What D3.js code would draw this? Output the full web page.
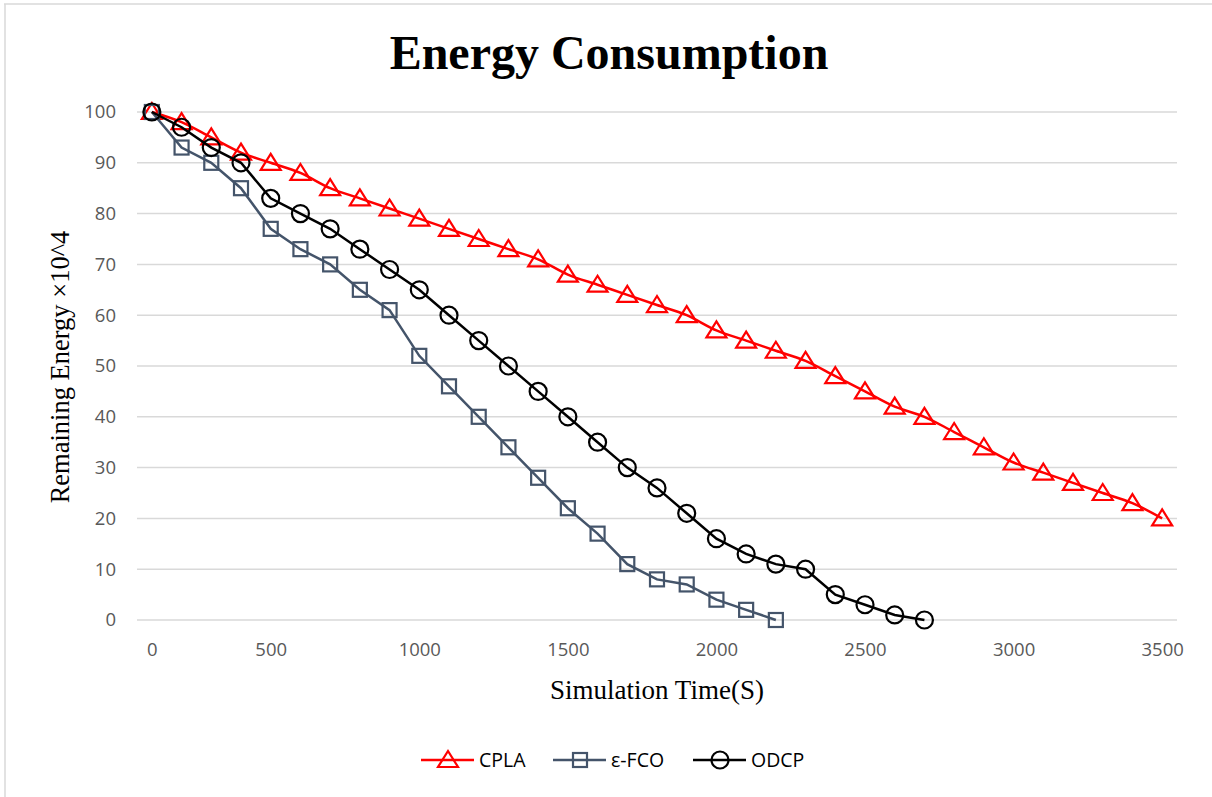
<!DOCTYPE html>
<html>
<head>
<meta charset="utf-8">
<script src="https://cdn.jsdelivr.net/npm/d3@7"></script>
<style>
  body { margin: 0; background: #fff; }
  svg { display: block; }
</style>
</head>
<body>
<svg id="chart" width="1212" height="797"></svg>
<script>
// ===== DADOS =====

const timeSteps = [0, 125, 250, 375, 500, 600, 700, 800, 900, 1000, 1100, 1200, 1300, 1400,
  1500, 1600, 1700, 1800, 1900, 2000, 2100, 2200, 2300, 2400, 2500, 2600, 2700, 2800,
  2900, 3000, 3100, 3200, 3300, 3400, 3500];
const xTickLabels = [0, 500, 1000, 1500, 2000, 2500, 3000, 3500];
const yTickValues = [0, 10, 20, 30, 40, 50, 60, 70, 80, 90, 100];

const cplaValues = [100, 98, 95, 92, 90, 88, 85, 83, 81, 79, 77, 75, 73, 71, 68, 66, 64, 62,
  60, 57, 55, 53, 51, 48, 45, 42, 40, 37, 34, 31, 29, 27, 25, 23, 20];
const fcoValues = [100, 93, 90, 85, 77, 73, 70, 65, 61, 52, 46, 40, 34, 28, 22, 17, 11, 8, 7, 4, 2, 0];
const odcpValues = [100, 97, 93, 90, 83, 80, 77, 73, 69, 65, 60, 55, 50, 45, 40, 35, 30, 26,
  21, 16, 13, 11, 10, 5, 3, 1, 0];

const seriesNames = ["CPLA", "ε-FCO", "ODCP"];

// ===== CONFIGURAÇÃO =====

const svg = d3.select("#chart");
const plot = { left: 137, right: 1177, top: 112, bottom: 620 };

const x = d3.scalePoint()
  .domain(timeSteps)
  .range([plot.left, plot.right])
  .padding(0.5);

const y = d3.scaleLinear().domain([0, 100]).range([plot.bottom, plot.top]);

const series = [
  { name: seriesNames[0], values: cplaValues, color: "#ff0000", marker: "triangle", curve: d3.curveMonotoneX },
  { name: seriesNames[1], values: fcoValues, color: "#44546a", marker: "square", curve: d3.curveLinear },
  { name: seriesNames[2], values: odcpValues, color: "#000000", marker: "circle", curve: d3.curveLinear }
];

// borda do gráfico (só topo e esquerda aparecem)
svg.append("line").attr("x1", 4).attr("x2", 1212).attr("y1", 4).attr("y2", 4)
  .attr("stroke", "#d9d9d9").attr("stroke-width", 1.5);
svg.append("line").attr("x1", 5).attr("x2", 5).attr("y1", 4).attr("y2", 797)
  .attr("stroke", "#d9d9d9").attr("stroke-width", 1.5);

// ===== TÍTULO =====

svg.append("text")
  .attr("x", 609).attr("y", 69)
  .attr("text-anchor", "middle")
  .style("font-family", "'Liberation Serif', 'Times New Roman', serif")
  .style("font-weight", "bold")
  .style("font-size", "48px")
  .text("Energy Consumption");

// ===== GRADE E EIXOS =====

svg.append("g")
  .selectAll("line")
  .data(yTickValues)
  .join("line")
  .attr("x1", plot.left).attr("x2", plot.right)
  .attr("y1", d => y(d)).attr("y2", d => y(d))
  .attr("stroke", "#d9d9d9").attr("stroke-width", 1.5);

const yAxis = svg.append("g")
  .attr("transform", `translate(${plot.left - 10},0)`)
  .call(d3.axisLeft(y).tickValues(yTickValues).tickSize(0).tickPadding(11));
yAxis.select(".domain").remove();

const xAxis = svg.append("g")
  .attr("transform", `translate(0,${plot.bottom + 11})`)
  .call(d3.axisBottom(x).tickValues(xTickLabels).tickSize(0).tickPadding(12));
xAxis.select(".domain").remove();

svg.selectAll(".tick text")
  .style("font-family", "'Open Sans', 'Noto Sans', sans-serif")
  .style("font-size", "18.5px")
  .attr("fill", "#595959");

// títulos dos eixos
svg.append("text")
  .attr("transform", "translate(69,367) rotate(-90)")
  .attr("text-anchor", "middle")
  .style("font-family", "'Liberation Serif', 'Times New Roman', serif")
  .style("font-size", "26.5px")
  .text("Remaining Energy ×10^4");

svg.append("text")
  .attr("x", 657).attr("y", 699)
  .attr("text-anchor", "middle")
  .style("font-family", "'Liberation Serif', 'Times New Roman', serif")
  .style("font-size", "27px")
  .text("Simulation Time(S)");

// ===== MARCADORES =====

function drawMarker(g, type, color) {
  if (type === "triangle") {
    g.append("path").attr("d", "M0,-9 L10,7 L-10,7 Z");
  } else if (type === "square") {
    g.append("rect").attr("x", -7).attr("y", -7).attr("width", 14).attr("height", 14);
  } else {
    g.append("circle").attr("r", 8.5);
  }
  g.selectAll("*")
    .attr("fill", "#fff")
    .attr("fill-opacity", 0)
    .attr("stroke", color)
    .attr("stroke-width", 2.2);
}

// ===== LINHAS =====

series.forEach(s => {
  const line = d3.line()
    .x((d, i) => x(timeSteps[i]))
    .y(d => y(d))
    .curve(s.curve);

  svg.append("path")
    .datum(s.values)
    .attr("d", line)
    .attr("fill", "none")
    .attr("stroke", s.color)
    .attr("stroke-width", 2.5);

  s.values.forEach((v, i) => {
    const g = svg.append("g").attr("transform", `translate(${x(timeSteps[i])},${y(v)})`);
    drawMarker(g, s.marker, s.color);
  });
});

// ===== LEGENDA =====

const legendPos = [421, 553, 693];
series.forEach((s, i) => {
  const lg = svg.append("g").attr("transform", `translate(${legendPos[i]},760)`);
  lg.append("line").attr("x1", 0).attr("x2", 53).attr("y1", 0).attr("y2", 0)
    .attr("stroke", s.color).attr("stroke-width", 2.5);
  const m = lg.append("g").attr("transform", "translate(27,0)");
  drawMarker(m, s.marker, s.color);
  lg.append("text")
    .attr("x", 58).attr("y", 7)
    .style("font-family", "'Open Sans', 'Noto Sans', sans-serif")
    .style("font-size", "19.5px")
    .attr("fill", "#000")
    .text(s.name);
});
</script>
</body>
</html>
